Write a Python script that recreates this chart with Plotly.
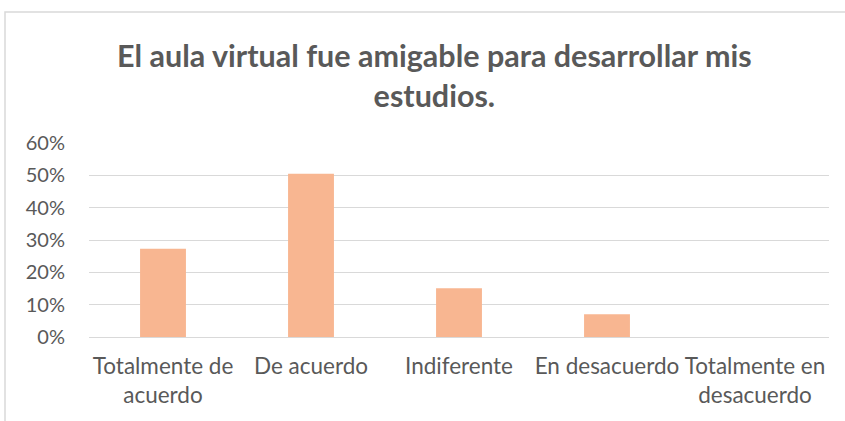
import plotly.graph_objects as go

categories = ["Totalmente de acuerdo", "De acuerdo", "Indiferente", "En desacuerdo", "Totalmente en desacuerdo"]
tick_labels = ["Totalmente de<br>acuerdo", "De acuerdo", "Indiferente", "En desacuerdo", "Totalmente en<br>desacuerdo"]
values = [0.273, 0.505, 0.151, 0.070, 0.0]
y_ticks = [0, 0.1, 0.2, 0.3, 0.4, 0.5, 0.6]
title = "El aula virtual fue amigable para desarrollar mis<br>estudios."

FONT = "Lato, sans-serif"
TXT = "#595959"
GRID = "#D9D9D9"

fig = go.Figure(go.Bar(x=categories, y=values, marker=dict(color="#F8B691", line=dict(width=0)), width=0.31))

W, H = 845, 421
L, R, T, B = 89, 16, 143, 84
pw, ph = W - L - R, H - T - B

def px_x(x):
    return (x - L) / pw

def px_y(y):
    return (H - B - y) / ph

fig.update_layout(
    width=W, height=H,
    margin=dict(l=L, r=R, t=T, b=B, autoexpand=False),
    paper_bgcolor="white", plot_bgcolor="white",
    showlegend=False,
    font=dict(family=FONT, color=TXT, size=20),
    title=dict(text=title, x=0.514, xanchor="center", y=1 - 67 / H, yanchor="top",
               font=dict(family=FONT, size=30.5, color=TXT, weight="bold")),
    xaxis=dict(tickmode="array", tickvals=categories, ticktext=tick_labels,
               showgrid=False, showline=True, linecolor=GRID, linewidth=1,
               ticks="", automargin=False, ticklabelstandoff=9,
               tickfont=dict(size=22.5, color=TXT)),
    yaxis=dict(range=[0, 0.6], tickvals=y_ticks, tickformat=".0%",
               showgrid=True, gridcolor=GRID, gridwidth=1, zeroline=False,
               showline=False, ticks="", ticklabelstandoff=23, automargin=False,
               tickfont=dict(size=20, color=TXT)),
    shapes=[dict(type="rect", xref="paper", yref="paper",
                 x0=px_x(5), x1=px_x(870), y0=px_y(450), y1=px_y(12),
                 line=dict(color=GRID, width=1.5), fillcolor="rgba(0,0,0,0)", layer="below")],
)

fig.write_html("out.html", config={"displayModeBar": False},
               post_script="document.body.style.margin='0';")
